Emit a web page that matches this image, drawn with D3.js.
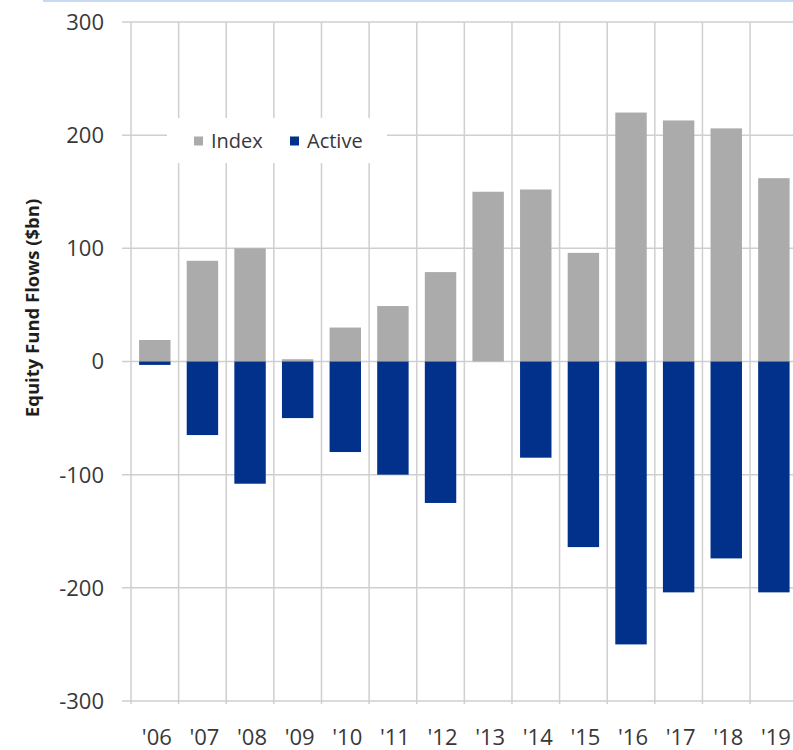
<!DOCTYPE html>
<html>
<head>
<meta charset="utf-8">
<script src="https://cdn.jsdelivr.net/npm/d3@7/dist/d3.min.js"></script>
<style>
  html, body { margin: 0; padding: 0; background: #fff; overflow: hidden; }
  svg { display: block; }
  text { font-family: "Open Sans", "DejaVu Sans", sans-serif; fill: #383838; }
</style>
</head>
<body>
<svg id="chart" width="793" height="750"></svg>
<script>
// Annual equity fund flows, $bn
const years = ["'06", "'07", "'08", "'09", "'10", "'11", "'12", "'13", "'14", "'15", "'16", "'17", "'18", "'19"];
const indexFlows  = [19, 89, 100, 2, 30, 49, 79, 150, 152, 96, 220, 213, 206, 162];
const activeFlows = [-3, -65, -108, -50, -80, -100, -125, 0, -85, -164, -250, -204, -174, -204];
const yTicks = [300, 200, 100, 0, -100, -200, -300];
const seriesNames = ["Index", "Active"];
const seriesColors = ["#ababab", "#02318c"];

const svg = d3.select("#chart");

const plotLeft = 131, plotTop = 22, plotBottom = 701;
const step = 47.62;

const x = d3.scaleBand()
  .domain(years)
  .range([plotLeft, plotLeft + step * years.length])
  .padding(0);

const y = d3.scaleLinear()
  .domain([-300, 300])
  .range([plotBottom, plotTop]);

const barFrac = 0.66;
const barW = x.bandwidth() * barFrac;
const barOff = (x.bandwidth() - barW) / 2;

// thin accent rule along the top edge
svg.append("line")
  .attr("x1", 43).attr("x2", 793)
  .attr("y1", 1).attr("y2", 1)
  .attr("stroke", "#c6daf2").attr("stroke-width", 2);

const grid = svg.append("g").attr("stroke", "#cfcfcf").attr("stroke-width", 1.5);

// horizontal gridlines with short left ticks
grid.selectAll("line.h")
  .data(yTicks)
  .join("line")
  .attr("class", "h")
  .attr("x1", plotLeft - 9)
  .attr("x2", 793)
  .attr("y1", d => y(d))
  .attr("y2", d => y(d));

// vertical gridlines at category boundaries (incl. left axis)
const bounds = years.map(d => x(d)).concat([x(years[years.length - 1]) + x.bandwidth()]);
grid.selectAll("line.v")
  .data(bounds)
  .join("line")
  .attr("class", "v")
  .attr("x1", d => d).attr("x2", d => d)
  .attr("y1", plotTop).attr("y2", plotBottom + 3);

// legend panel (white box over the grid)
const legend = svg.append("g");
legend.append("rect")
  .attr("x", 167).attr("y", 118)
  .attr("width", 220).attr("height", 45)
  .attr("fill", "#fff");

// bars: index above zero, active below
const bars = svg.append("g");
bars.selectAll("rect.idx")
  .data(years.map((yr, i) => ({ yr, v: indexFlows[i] })))
  .join("rect")
  .attr("class", "idx")
  .attr("x", d => x(d.yr) + barOff)
  .attr("width", barW)
  .attr("y", d => y(Math.max(0, d.v)))
  .attr("height", d => Math.abs(y(d.v) - y(0)))
  .attr("fill", seriesColors[0]);

bars.selectAll("rect.act")
  .data(years.map((yr, i) => ({ yr, v: activeFlows[i] })))
  .join("rect")
  .attr("class", "act")
  .attr("x", d => x(d.yr) + barOff)
  .attr("width", barW)
  .attr("y", d => y(Math.max(0, d.v)))
  .attr("height", d => Math.abs(y(d.v) - y(0)))
  .attr("fill", seriesColors[1]);

// y tick labels
svg.append("g").selectAll("text")
  .data(yTicks)
  .join("text")
  .attr("x", 104)
  .attr("y", d => y(d))
  .attr("dy", "0.36em")
  .attr("text-anchor", "end")
  .attr("font-size", 22)
  .text(d => d);

// x category labels
svg.append("g").selectAll("text")
  .data(years)
  .join("text")
  .attr("x", d => x(d) + x.bandwidth() / 2 + 2)
  .attr("y", 745)
  .attr("text-anchor", "middle")
  .attr("font-size", 22)
  .text(d => d);

// y axis title
svg.append("text")
  .attr("transform", "translate(39,308) rotate(-90)")
  .attr("text-anchor", "middle")
  .attr("font-size", 18.5)
  .attr("font-weight", "bold")
  .style("fill", "#1e1e1e")
  .text("Equity Fund Flows ($bn)");

// legend entries
const lx = [194, 290];
seriesNames.forEach((name, i) => {
  legend.append("rect")
    .attr("x", lx[i]).attr("y", 136.5)
    .attr("width", 9).attr("height", 9)
    .attr("fill", seriesColors[i]);
  legend.append("text")
    .attr("x", lx[i] + 17)
    .attr("y", 141)
    .attr("dy", "0.36em")
    .attr("font-size", 20)
    .text(name);
});
</script>
</body>
</html>
